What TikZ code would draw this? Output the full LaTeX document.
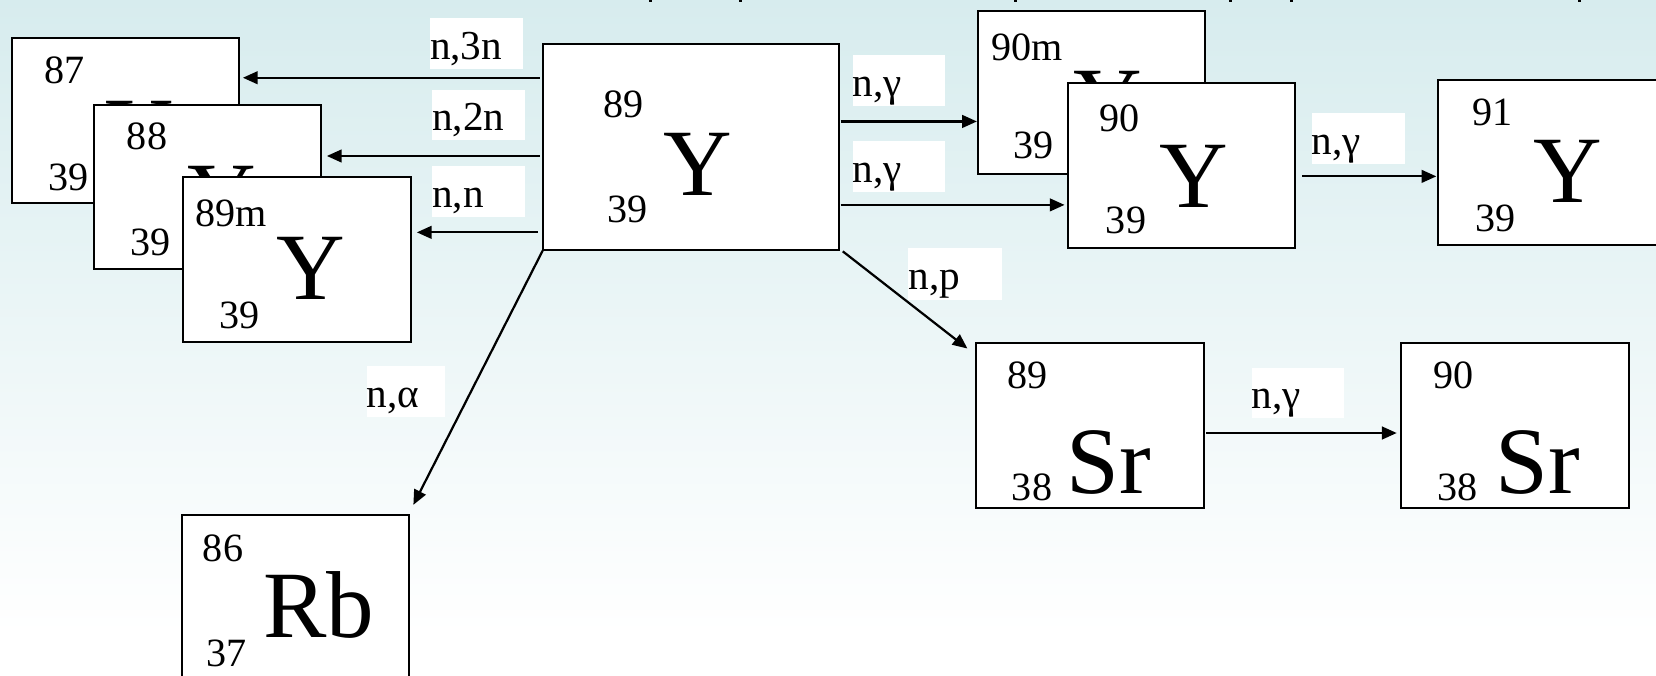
\documentclass[tikz,border=0pt]{standalone}
\usepackage{fontspec}
\setmainfont{Liberation Serif}
\usetikzlibrary{arrows.meta,calc}
\definecolor{bgtop}{RGB}{215,236,238}
\begin{document}
\begin{tikzpicture}[x=1pt,y=-1pt,
  nbox/.style={draw=black,line width=1.9pt,fill=white,anchor=north west,inner sep=0pt,outer sep=0pt},
  num/.style={anchor=base west,inner sep=0pt,font=\fontsize{38}{40}\selectfont},
  sym/.style={anchor=base west,inner sep=0pt,font=\fontsize{90}{90}\selectfont},
  lbl/.style={anchor=base west,fill=white,inner sep=0pt,text height=39pt,text depth=9pt,align=left,font=\fontsize{39}{40}\selectfont},
  arr/.style={line width=2.1pt,-{Triangle[length=14pt,width=12pt]}},
  frag/.style={fill=black}]
\path[use as bounding box] (0,0) rectangle (1568,640);
\clip (0,0) rectangle (1568,640);
% background
\shade[top color=bgtop,bottom color=white] (0,0) rectangle (1568,600);
\fill[white] (0,600) rectangle (1568,640);
% fragments of cut-off title
\foreach \fx in {614.6,700,960,1163.8,1221.6,1494} {\fill[frag] (\fx,0) rectangle ++(3,2);}

% 87Y
\node[nbox,minimum width=215pt,minimum height=156pt] (y87) at (11,36) {};
\node[num] (y87a) at (42,78.6) {87};
\node[num] (y87z) at (45.6,180) {39};
\node[sym] (y87s) at (100,155) {Y};
% 88Y
\node[nbox,minimum width=215pt,minimum height=156pt] (y88) at (89,99) {};
\node[num] (y88a) at (120,142) {88};
\node[num] (y88z) at (123,241.5) {39};
\node[sym] (y88s) at (177.5,216.5) {Y};
% 89mY
\node[nbox,minimum width=216pt,minimum height=156pt] (y89m) at (173,168) {};
\node[num] (y89ma) at (185,214.6) {89m};
\node[num] (y89mz) at (208,310.6) {39};
\node[sym] (y89ms) at (262,284) {Y};
% main 89Y
\node[nbox,minimum width=280pt,minimum height=195pt] (main) at (514,42) {};
\node[num] (maina) at (571,111) {89};
\node[num] (mainz) at (575,211) {39};
\node[sym] (mains) at (628,185) {Y};
% 90mY
\node[nbox,minimum width=215pt,minimum height=155pt] (y90m) at (926,10) {};
\node[num] (y90ma) at (938.5,57) {90m};
\node[num] (y90mz) at (959,150) {39};
\node[sym] (y90ms) at (1016,126) {Y};
% 90Y
\node[nbox,minimum width=215pt,minimum height=156pt] (y90) at (1011,79) {};
\node[num] (y90a) at (1041,124.7) {90};
\node[num] (y90z) at (1047,221) {39};
\node[sym] (y90s) at (1098,196) {Y};
% 91Y
\node[nbox,minimum width=250pt,minimum height=156pt] (y91) at (1362,76) {};
\node[num] (y91a) at (1393.6,119) {91};
\node[num] (y91z) at (1397,219) {39};
\node[sym] (y91s) at (1452,192) {Y};
% 89Sr
\node[nbox,minimum width=215.5pt,minimum height=156.5pt] (sr89) at (924.5,324.5) {};
\node[num] (sr89a) at (953.6,367.5) {89};
\node[num] (sr89z) at (958,473.5) {38};
\node[sym] (sr89s) at (1009.6,467) {Sr};
% 90Sr
\node[nbox,minimum width=215pt,minimum height=156.5pt] (sr90) at (1327,324.5) {};
\node[num] (sr90a) at (1357,367.5) {90};
\node[num] (sr90z) at (1361,473.5) {38};
\node[sym] (sr90s) at (1416,467) {Sr};
% 86Rb
\node[nbox,minimum width=215pt,minimum height=180pt] (rb86) at (172,488) {};
\node[num] (rb86a) at (192,532) {86};
\node[num] (rb86z) at (195.6,631) {37};
\node[sym] (rb86s) at (249,604) {Rb};

% labels
\node[lbl,text width=88pt] (l3n) at (407,56) {n,3n};
\node[lbl,text width=88pt] (l2n) at (409,124) {n,2n};
\node[lbl,text width=88pt] (lnn) at (409,196) {n,n};
\node[lbl,text width=74pt] (lna) at (347,386) {n,α};
\node[lbl,text width=87.5pt] (lg1) at (807,91) {n,γ};
\node[lbl,text width=87.5pt] (lg2) at (807,172.5) {n,γ};
\node[lbl,text width=88pt] (lg3) at (1242,146) {n,γ};
\node[lbl,text width=88.5pt,text depth=10pt] (lnp) at (860,274) {n,p};
\node[lbl,text width=87pt] (lg4) at (1185,387) {n,γ};

% arrows
\draw[arr] ($(main.north west)+(-3,31.6)$) -- ($(y87.north east)+(4,37.6)$);
\draw[arr] ($(main.north west)+(-3,105.7)$) -- ($(y88.north east)+(5.5,48.7)$);
\draw[arr] ($(main.north west)+(-5,178)$) -- ($(y89m.north east)+(5.7,52)$);
\draw[arr] (main.south west) -- ($(rb86.north east)+(4.4,-10)$);
\draw[arr] ($(main.north east)+(2,73)$) -- ($(y90m.north west)+(-1,105)$);
\draw[arr] ($(main.north east)+(2,152)$) -- ($(y90.north west)+(-3,115)$);
\draw[arr] ($(y90.north east)+(7,88)$) -- ($(y91.north west)+(-2,91)$);
\draw[arr] ($(main.south east)+(4,1)$) -- ($(sr89.north west)+(-8.5,5.5)$);
\draw[arr] ($(sr89.north east)+(2,85.5)$) -- ($(sr90.north west)+(-4.5,85.5)$);
\end{tikzpicture}
\end{document}
